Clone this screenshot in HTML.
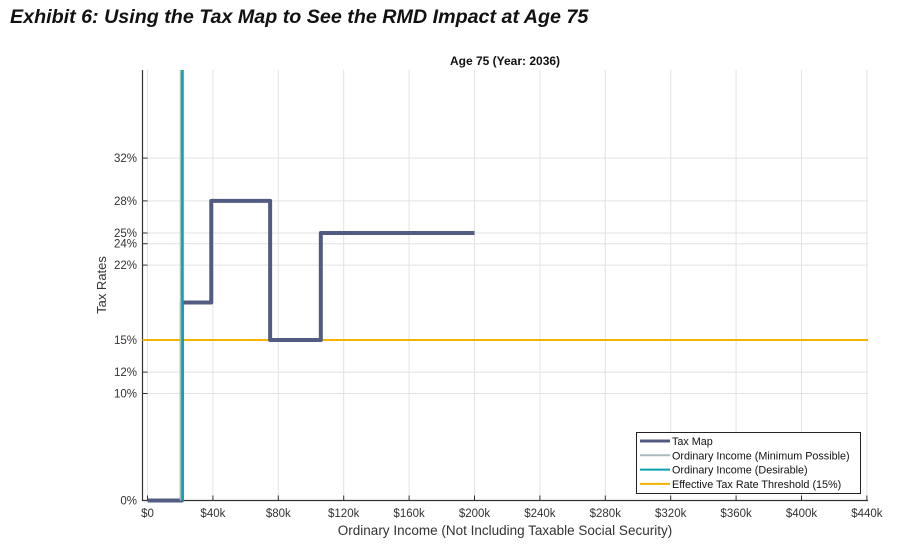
<!DOCTYPE html>
<html><head><meta charset="utf-8"><style>
body{margin:0;background:#fff;width:915px;height:559px;overflow:hidden;font-family:"Liberation Sans",sans-serif}
#h{position:absolute;left:10px;top:6px;font-size:19.7px;font-weight:bold;font-style:italic;color:#111;font-family:"Liberation Sans",sans-serif}
</style></head><body>
<div id="h">Exhibit 6: Using the Tax Map to See the RMD Impact at Age 75</div>
<svg id="c" width="915" height="559" style="position:absolute;left:0;top:0"></svg>
<script>
const xTicks=[0,40,80,120,160,200,240,280,320,360,400,440];
const xTickLabels=["$0","$40k","$80k","$120k","$160k","$200k","$240k","$280k","$320k","$360k","$400k","$440k"];
const yTicks=[0,10,12,15,22,24,25,28,32];
const yTickLabels=["0%","10%","12%","15%","22%","24%","25%","28%","32%"];
const taxIncome=[0,21,21,39,39,75,75,106,106,200];
const taxRate=[0,0,18.5,18.5,28,28,15,15,25,25];
const minIncome=20.5;
const desirableIncome=21.4;
const threshold=15;
const X=v=>147.5+v*1.635, Y=v=>500.5-v*10.7;
const NS="http://www.w3.org/2000/svg", s=document.getElementById('c');
function mk(t,a,p){const e=document.createElementNS(NS,t);for(const k in a)e.setAttribute(k,a[k]);(p||s).appendChild(e);return e;}
const xl=142.5,xr=868,yt=70,yb=500.5;
xTicks.forEach((v,i)=>{
 const g=mk('line',{x1:X(v),x2:X(v),y1:yt,y2:yb,stroke:'#e2e2e2','stroke-width':1});
 
 
 const tk=mk('line',{x1:X(v),x2:X(v),y1:yb-5,y2:yb,stroke:'#333'});
 
 
 const t=mk('text',{x:X(v),y:517,'font-size':11.5,'text-anchor':'middle',fill:'#333'});t.textContent=xTickLabels[i];
 
 
});
yTicks.forEach((v,i)=>{
 const g=mk('line',{x1:xl,x2:xr,y1:Y(v),y2:Y(v),stroke:'#e2e2e2','stroke-width':1});
 
 
 const tk=mk('line',{x1:xl,x2:xl+5,y1:Y(v),y2:Y(v),stroke:'#333'});
 
 
 const t=mk('text',{x:137,y:Y(v)+4,'font-size':11.5,'text-anchor':'end',fill:'#333'});t.textContent=yTickLabels[i];
 
 
});
const ax=mk('path',{d:`M${xl},${yt}V${yb}H${xr}`,fill:'none',stroke:'#333','stroke-width':1.2});


const th=mk('line',{x1:xl,x2:xr,y1:Y(threshold),y2:Y(threshold),stroke:'#f2b400','stroke-width':2});


const tm=mk('polyline',{points:taxIncome.map((v,i)=>X(v)+','+Y(taxRate[i])).join(' '),fill:'none',stroke:'#525b82','stroke-width':4,'stroke-linejoin':'round'});


const mn=mk('line',{x1:X(minIncome),x2:X(minIncome),y1:yt,y2:yb,stroke:'#a7bcbc','stroke-width':2.5});


const de=mk('line',{x1:X(desirableIncome),x2:X(desirableIncome),y1:yt,y2:yb,stroke:'#0aa0b0','stroke-width':2.5});


const ti=mk('text',{x:505,y:65,'font-size':12,'font-weight':'bold','text-anchor':'middle',fill:'#111'});ti.textContent='Age 75 (Year: 2036)';


const xa=mk('text',{x:505,y:535,'font-size':13.5,'text-anchor':'middle',fill:'#333'});xa.textContent='Ordinary Income (Not Including Taxable Social Security)';


const ya=mk('text',{x:106,y:285,'font-size':13,'text-anchor':'middle',fill:'#333',transform:'rotate(-90 106 285)'});ya.textContent='Tax Rates';


const lg=mk('g',{});


mk('rect',{x:636.5,y:432.5,width:224,height:61,fill:'#fff',stroke:'#222'},lg);
const L=[['Tax Map','#525b82',3],['Ordinary Income (Minimum Possible)','#a7bcbc',2],['Ordinary Income (Desirable)','#0aa0b0',2],['Effective Tax Rate Threshold (15%)','#f2b400',2]];
L.forEach((l,i)=>{const y=441+i*14.3;
 const ent=mk('g',{},lg);
 
 
 mk('line',{x1:640,x2:670,y1:y,y2:y,stroke:l[1],'stroke-width':l[2]},ent);
 const t=mk('text',{x:672,y:y+4,'font-size':10.8,fill:'#111'},ent);t.textContent=l[0];});
</script>
</body></html>
